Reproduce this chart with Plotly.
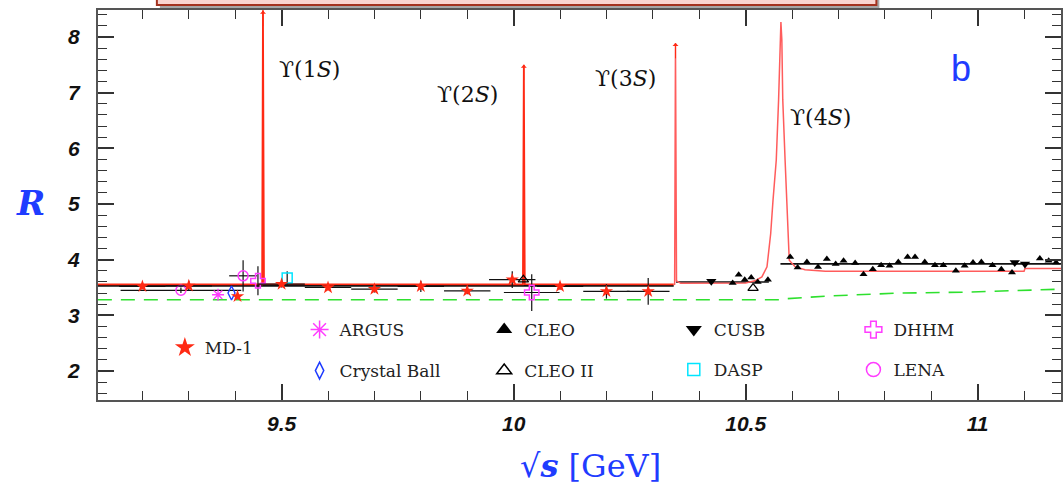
import plotly.graph_objects as go

# ---------------- data ----------------
# MD-1
md1_x = [9.20, 9.30, 9.405, 9.50, 9.60, 9.70, 9.80, 9.90, 9.997, 10.10, 10.20, 10.29]
md1_R = [3.52, 3.53, 3.34, 3.56, 3.50, 3.47, 3.52, 3.44, 3.64, 3.52, 3.43, 3.43]
md1_dR = [0.05, 0.09, 0.04, 0.06, 0.05, 0.06, 0.10, 0.06, 0.15, 0.06, 0.13, 0.24]
md1_dx = [0.05, 0.05, 0.0, 0.05, 0.05, 0.05, 0.05, 0.05, 0.05, 0.05, 0.05, 0.046]
# ARGUS
argus_x = [9.363]
argus_R = [3.37]
# Crystal Ball
cb_x = [9.392]
cb_R = [3.40]
# CLEO
cleo_x = [10.472, 10.485, 10.498, 10.512, 10.526, 10.548, 10.596, 10.612, 10.632, 10.656,
          10.675, 10.694, 10.711, 10.736, 10.754, 10.774, 10.792, 10.810, 10.829, 10.849,
          10.865, 10.886, 10.908, 10.926, 10.953, 10.972, 10.990, 11.008, 11.032, 11.051,
          11.074, 11.134, 11.153, 11.169]
cleo_R = [3.58, 3.73, 3.64, 3.68, 3.60, 3.64, 4.05, 3.86, 3.96, 3.87,
          4.01, 3.92, 3.98, 3.94, 3.74, 3.83, 3.90, 3.89, 3.96, 4.05,
          4.05, 3.96, 3.90, 3.90, 3.80, 3.89, 3.95, 3.96, 3.90, 3.83,
          3.77, 4.02, 3.98, 3.95]
# CLEO II
cleo2_x = [10.021, 10.516]
cleo2_R = [3.64, 3.49]
# CUSB
cusb_x = [10.426, 11.080, 11.102]
cusb_R = [3.61, 3.95, 3.92]
# DASP
dasp_x = [9.512]
dasp_R = [3.67]
dasp_dR = [0.12]
# DHHM
dhhm_x = [9.449, 10.039]
dhhm_R = [3.62, 3.41]
dhhm_dR = [0.26, 0.33]
dhhm_dx = [0.0, 0.06]
# LENA
lena_x = [9.283, 9.417]
lena_R = [3.45, 3.71]
lena_dR = [0.05, 0.28]
lena_dx = [0.13, 0.03]

# theory curve (red), below and above the Y(3S)
th1_x = [9.104, 9.458, 9.4598, 9.4600, 9.462, 10.020, 10.0218, 10.0220, 10.024, 10.345]
th1_R = [3.555, 3.555, 8.48, 8.48, 3.56, 3.555, 7.50, 7.50, 3.56, 3.555]
th2_x = [10.345, 10.347, 10.3488, 10.3490, 10.351, 10.36, 10.45, 10.50, 10.52, 10.535,
         10.546, 10.554, 10.559, 10.566, 10.571, 10.576, 10.578, 10.580, 10.585, 10.588,
         10.5905, 10.594, 10.607, 10.628, 10.672, 11.10, 11.102, 11.18]
th2_R = [3.555, 3.56, 7.89, 7.89, 3.62, 3.575, 3.57, 3.58, 3.62, 3.69,
         3.87, 4.47, 5.07, 5.79, 6.87, 8.27, 7.95, 6.87, 5.79, 5.07,
         4.47, 3.99, 3.87, 3.82, 3.79, 3.79, 3.84, 3.84]
# background (green dashed)
bkg_x = [9.104, 10.575, 10.59, 10.685, 10.83, 10.97, 11.18]
bkg_R = [3.28, 3.28, 3.30, 3.35, 3.40, 3.415, 3.47]
# black average lines
avg_x = [9.104, 10.345, None, 10.35, 10.55, None, 10.575, 11.18]
avg_R = [3.53, 3.53, None, 3.60, 3.60, None, 3.925, 3.925]

# resonances
res_names = ["ϒ(1<i>S</i>)", "ϒ(2<i>S</i>)", "ϒ(3<i>S</i>)", "ϒ(4<i>S</i>)"]
res_mass = [9.4599, 10.0219, 10.3489]
res_tip = [8.47, 7.50, 7.89]
res_label_x = [9.560, 9.900, 10.242, 10.661]
res_label_R = [7.41, 6.96, 7.26, 6.56]

# x tick labels
xtick_vals = [9.5, 10.0, 10.5, 11.0]
xtick_text = ["9.5", "10", "10.5", "11"]

# ---------------- layout helpers ----------------
W, H = 1063, 486
ML, MR, MT, MB = 98, 0, 10, 86
def pxx(px):
    return (px - ML) / (W - ML - MR)
def pxy(py):
    return (H - MB - py) / (H - MT - MB)

RED = "#ff2a14"
PINKRED = "#ff5c5c"
MAG = "#ff3cff"
BLUE = "#1f3cff"
CYAN = "#00e5ff"
BLK = "#000000"

fig = go.Figure()

def ebar(arr, vis=True):
    return dict(type="data", array=arr, color="#111", thickness=1.2, width=0, visible=vis)

# lines
fig.add_trace(go.Scatter(x=bkg_x, y=bkg_R, mode="lines",
                         line=dict(color="#2ee02e", width=1.6, dash="14px,9px"), showlegend=False))
fig.add_trace(go.Scatter(x=avg_x, y=avg_R, mode="lines",
                         line=dict(color="#111", width=1.6), showlegend=False))
fig.add_trace(go.Scatter(x=th1_x, y=th1_R, mode="lines",
                         line=dict(color=RED, width=1.8), showlegend=False))
fig.add_trace(go.Scatter(x=th2_x, y=th2_R, mode="lines",
                         line=dict(color=PINKRED, width=1.5), showlegend=False))

# data
fig.add_trace(go.Scatter(x=lena_x, y=lena_R, mode="markers", showlegend=False,
                         error_y=ebar(lena_dR), error_x=ebar(lena_dx),
                         marker=dict(symbol="circle-open", size=10, color=MAG, line=dict(width=1.5, color=MAG))))
fig.add_trace(go.Scatter(x=dhhm_x, y=dhhm_R, mode="markers", showlegend=False,
                         error_y=ebar(dhhm_dR), error_x=ebar(dhhm_dx),
                         marker=dict(symbol="cross-open", size=12, color=MAG, line=dict(width=1.5, color=MAG))))
fig.add_trace(go.Scatter(x=dasp_x, y=dasp_R, mode="markers", showlegend=False,
                         error_y=ebar(dasp_dR),
                         marker=dict(symbol="square-open", size=10, color=CYAN, line=dict(width=1.5, color=CYAN))))
fig.add_trace(go.Scatter(x=argus_x, y=argus_R, mode="markers", showlegend=False,
                         marker=dict(symbol="asterisk-open", size=10, color=MAG, line=dict(width=1.3, color=MAG))))
fig.add_trace(go.Scatter(x=cb_x, y=cb_R, mode="markers", showlegend=False,
                         marker=dict(symbol="diamond-tall-open", size=10, color=BLUE, line=dict(width=1.4, color=BLUE))))
fig.add_trace(go.Scatter(x=md1_x, y=md1_R, mode="markers", showlegend=False,
                         error_y=ebar(md1_dR), error_x=ebar(md1_dx),
                         marker=dict(symbol="star", size=10, color=RED, line=dict(width=0))))
fig.add_trace(go.Scatter(x=cleo2_x, y=cleo2_R, mode="markers", showlegend=False,
                         marker=dict(symbol="triangle-up-open", size=9, color=BLK, line=dict(width=1.2, color=BLK))))
fig.add_trace(go.Scatter(x=cusb_x, y=cusb_R, mode="markers", showlegend=False,
                         marker=dict(symbol="triangle-down", size=9, color=BLK, line=dict(width=0))))
fig.add_trace(go.Scatter(x=cleo_x, y=cleo_R, mode="markers", showlegend=False,
                         marker=dict(symbol="triangle-up", size=7, color=BLK, line=dict(width=0))))

# legend entries (one legend box per entry)
legend_entries = [
    ("MD-1", "star", RED, 15, 190, 348),
    ("ARGUS", "asterisk-open", MAG, 15, 325, 330),
    ("Crystal Ball", "diamond-tall-open", BLUE, 12, 325, 371),
    ("CLEO", "triangle-up", BLK, 14, 510, 330),
    ("CLEO II", "triangle-up-open", BLK, 13, 510, 371),
    ("CUSB", "triangle-down", BLK, 14, 700, 330),
    ("DASP", "square-open", CYAN, 12, 700, 370),
    ("DHHM", "cross-open", MAG, 14, 880, 330),
    ("LENA", "circle-open", MAG, 14, 880, 370),
]
legend_layout = {}
for i, (name, sym, col, sz, mx, my) in enumerate(legend_entries):
    key = "legend" if i == 0 else f"legend{i+1}"
    open_sym = sym.endswith("-open")
    fig.add_trace(go.Scatter(x=[None], y=[None], mode="markers", name=name, legend=key,
                             marker=dict(symbol=sym, size=sz, color=col,
                                         line=dict(width=1.5 if open_sym else 0, color=col))))
    legend_layout[key] = dict(x=pxx(mx - 25), y=pxy(my), xanchor="left", yanchor="middle",
                              bgcolor="rgba(0,0,0,0)", borderwidth=0,
                              font=dict(family="DejaVu Serif", size=17, color="#222"),
                              itemclick=False, itemdoubleclick=False)

annotations = []
for name, lx, ly in zip(res_names, res_label_x, res_label_R):
    annotations.append(dict(x=lx, y=ly, xref="x", yref="y", text=name, showarrow=False,
                            xanchor="center", yanchor="middle",
                            font=dict(family="DejaVu Serif", size=22, color="#111")))
for m, t in zip(res_mass, res_tip):
    annotations.append(dict(x=m, y=t, xref="x", yref="y", ax=m, ay=t - 0.3, axref="x", ayref="y",
                            text="", showarrow=True, arrowhead=1, arrowsize=1, arrowwidth=1.0,
                            arrowcolor=RED))
annotations.append(dict(x=pxx(30), y=pxy(203), xref="paper", yref="paper", text="<b><i>R</i></b>",
                        xanchor="center", yanchor="middle", showarrow=False,
                        font=dict(family="DejaVu Serif", size=34, color=BLUE)))
annotations.append(dict(x=pxx(592), y=pxy(466), xref="paper", yref="paper",
                        text="√<b><i>s</i></b> [GeV]", xanchor="center", yanchor="middle", showarrow=False,
                        font=dict(family="DejaVu Serif", size=32, color=BLUE)))
annotations.append(dict(x=pxx(963), y=pxy(68), xref="paper", yref="paper", text="b",
                        xanchor="center", yanchor="middle", showarrow=False,
                        font=dict(family="Liberation Sans", size=36, color=BLUE)))

shapes = [
    dict(type="rect", xref="paper", yref="paper", x0=pxx(160), x1=pxx(881), y0=pxy(8), y1=pxy(-10),
         fillcolor="rgba(0,0,0,0.35)", line=dict(width=0), layer="above"),
    dict(type="rect", xref="paper", yref="paper", x0=pxx(157), x1=pxx(878), y0=pxy(5), y1=pxy(-10),
         fillcolor="#f9d5d0", line=dict(color="#a3321f", width=2), layer="above"),
]

tickfont = dict(family="Liberation Sans", size=21, color="#111", weight="bold", style="italic")
fig.update_layout(
    width=W, height=H, margin=dict(l=ML, r=MR, t=MT, b=MB),
    paper_bgcolor="white", plot_bgcolor="white",
    annotations=annotations, shapes=shapes,
    **legend_layout,
)
fig.update_xaxes(range=[9.1043, 11.1796], showgrid=False, zeroline=False,
                 showline=True, linecolor="#555", linewidth=2, mirror="ticks",
                 ticks="inside", ticklen=16, tickwidth=1.5, tickcolor="#333",
                 tickvals=xtick_vals, ticktext=xtick_text, tickfont=tickfont, ticklabelstandoff=4,
                 minor=dict(ticks="inside", ticklen=9, tick0=9.5, dtick=0.1, tickwidth=1.2, tickcolor="#333", showgrid=False))
fig.update_yaxes(range=[1.479, 8.485], showgrid=False, zeroline=False,
                 showline=True, linecolor="#555", linewidth=2, mirror="ticks",
                 ticks="inside", ticklen=16, tickwidth=1.5, tickcolor="#333",
                 tick0=2, dtick=1, tickfont=tickfont, ticklabelstandoff=12,
                 minor=dict(ticks="inside", ticklen=9, tick0=2, dtick=0.2, tickwidth=1.2, tickcolor="#333", showgrid=False))

fig.write_html("out.html")
